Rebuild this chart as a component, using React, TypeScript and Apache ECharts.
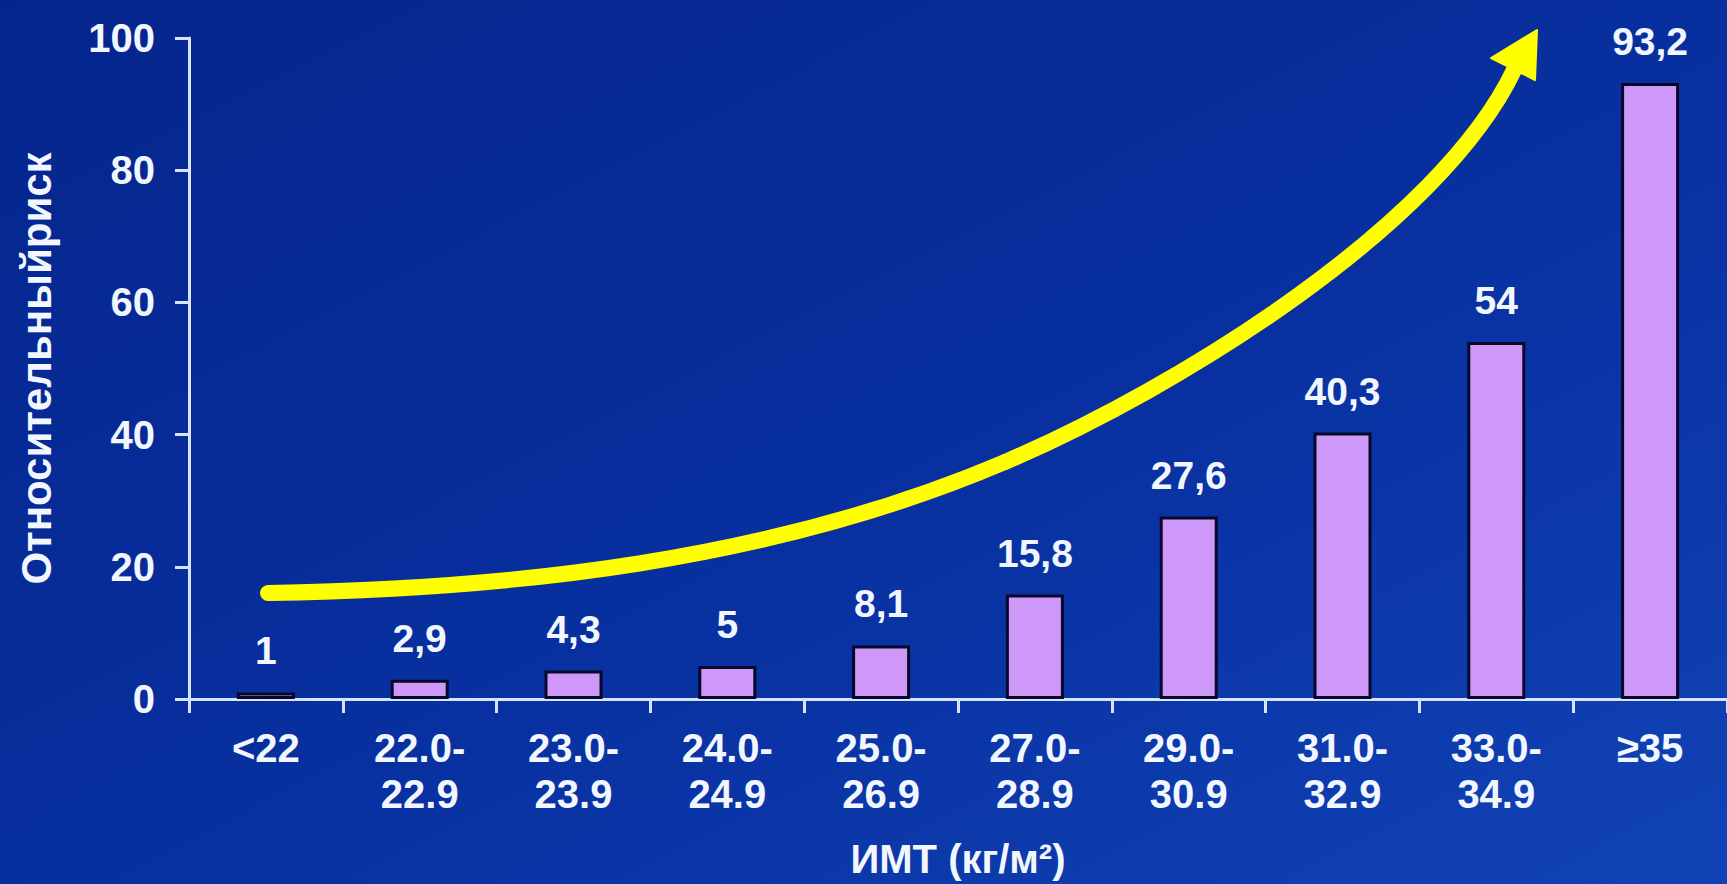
import React, { useEffect, useRef } from "react";
import * as echarts from "echarts";

const categories = [
  "<22",
  "22.0-\n22.9",
  "23.0-\n23.9",
  "24.0-\n24.9",
  "25.0-\n26.9",
  "27.0-\n28.9",
  "29.0-\n30.9",
  "31.0-\n32.9",
  "33.0-\n34.9",
  "≥35",
];
const riskValues = [1, 2.9, 4.3, 5, 8.1, 15.8, 27.6, 40.3, 54, 93.2];
const yMin = 0;
const yMax = 100;
const yInterval = 20;
const yAxisTitle = "Относительныйриск";
const xAxisTitle = "ИМТ (кг/м²)";

const FONT = "'Liberation Sans', Arial, sans-serif";
const TEXT = "#f2f6ff";
const AXIS = "#d6e4ff";

// decorative trend arrow: two smooth cubic segments (pixels)
const arrowSeg1 = { x1: 268, y1: 593, cpx1: 510, cpy1: 589, cpx2: 770, cpy2: 562, x2: 1005, y2: 462 };
const arrowSeg2 = { x1: 1005, y1: 462, cpx1: 1180, cpy1: 387, cpx2: 1440, cpy2: 225, x2: 1514, y2: 70 };
const arrowHead = [
  [1537, 30],
  [1491, 58],
  [1535, 80],
];

export default function App() {
  const ref = useRef<HTMLDivElement>(null);
  useEffect(() => {
    if (!ref.current) return;
    const chart = echarts.init(ref.current, null, { renderer: "svg" });
    const arrowStyle = { stroke: "#ffff00", lineWidth: 16, fill: null, lineCap: "round" };
    const option = {
      animation: false,
      backgroundColor: {
        type: "linear",
        x: 0,
        y: 0,
        x2: 1,
        y2: 1,
        colorStops: [
          { offset: 0, color: "#05258c" },
          { offset: 0.55, color: "#0830a0" },
          { offset: 1, color: "#1143b6" },
        ],
      },
      grid: { left: 189, top: 38, width: 1540, height: 662, containLabel: false },
      xAxis: {
        type: "category",
        data: categories,
        axisLine: { show: true, lineStyle: { color: AXIS, width: 3 } },
        axisTick: { show: true, length: 14, lineStyle: { color: AXIS, width: 3 } },
        axisLabel: {
          interval: 0,
          color: TEXT,
          fontFamily: FONT,
          fontWeight: "bold",
          fontSize: 40,
          lineHeight: 46,
          margin: 26,
          align: "center",
        },
        name: xAxisTitle,
        nameLocation: "middle",
        nameGap: 140,
        nameTextStyle: {
          color: TEXT,
          fontFamily: FONT,
          fontWeight: "bold",
          fontSize: 40,
        },
      },
      yAxis: {
        type: "value",
        min: yMin,
        max: yMax,
        interval: yInterval,
        splitLine: { show: false },
        axisLine: { show: true, lineStyle: { color: AXIS, width: 3 } },
        axisTick: { show: true, length: 14, lineStyle: { color: AXIS, width: 3 } },
        axisLabel: {
          color: TEXT,
          fontFamily: FONT,
          fontWeight: "bold",
          fontSize: 40,
          margin: 34,
        },
        name: yAxisTitle,
        nameLocation: "middle",
        nameGap: 132,
        nameRotate: 90,
        nameTextStyle: {
          color: TEXT,
          fontFamily: FONT,
          fontWeight: "bold",
          fontSize: 42,
        },
      },
      series: [
        {
          type: "bar",
          data: riskValues,
          barWidth: 58,
          itemStyle: { color: "#cd98f8", borderColor: "#08082a", borderWidth: 3 },
          label: {
            show: true,
            position: "top",
            distance: 22,
            color: TEXT,
            fontFamily: FONT,
            fontWeight: "bold",
            fontSize: 39,
            lineHeight: 39,
            formatter: (p: any) => String(p.value).replace(".", ","),
          },
        },
      ],
      graphic: [
        { type: "bezierCurve", z: 100, shape: arrowSeg1, style: arrowStyle },
        { type: "bezierCurve", z: 100, shape: arrowSeg2, style: arrowStyle },
        {
          type: "polygon",
          z: 101,
          shape: { points: arrowHead },
          style: { fill: "#ffff00", stroke: "#ffff00", lineWidth: 2, lineJoin: "round" },
        },
      ],
    };
    chart.setOption(option as any);
    return () => chart.dispose();
  }, []);
  return (
    <div
      ref={ref}
      style={{ position: "fixed", left: 0, top: 0, width: 1727, height: 884, background: "#0830a0" }}
    />
  );
}
